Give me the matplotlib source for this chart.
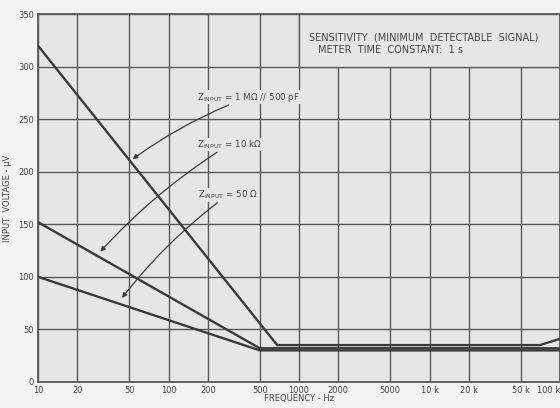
import matplotlib
matplotlib.use("Agg")
import matplotlib.pyplot as plt
import matplotlib.patches as mpatches

# Sensitivity curves
freq_1m = [10, 680, 70000, 100000]
volt_1m = [320, 35, 35, 41]
freq_10k = [10, 500, 100000]
volt_10k = [152, 32, 32]
freq_50 = [10, 500, 100000]
volt_50 = [100, 30, 30]

x_ticks = [10, 20, 50, 100, 200, 500, 1000, 2000, 5000, 10000, 20000, 50000, 100000]
x_labels = ['10', '20', '50', '100', '200', '500', '1000', '2000', '5000', '10 k', '20 k', '50 k', '100 k']
y_ticks = [0, 50, 100, 150, 200, 250, 300, 350]

grid_col = '#5a5a5a'
line_col = '#3a3a3a'
text_col = '#444444'
bg_col = '#e6e6e6'

fig = plt.figure(figsize=(5.6, 4.08), dpi=100, facecolor='#f3f3f3')
ax = fig.add_axes([0.068, 0.064, 0.932, 0.901])
ax.set_facecolor(bg_col)
ax.set_xscale('log')
ax.set_xlim(10, 100000)
ax.set_ylim(0, 350)

ax.set_xticks(x_ticks)
ax.set_xticklabels(x_labels)
ax.minorticks_off()
ax.set_yticks(y_ticks)
ax.tick_params(length=0, labelsize=6, colors=text_col, pad=3)
labels = ax.get_xticklabels()
labels[-1].set_horizontalalignment('right')
ax.grid(True, color=grid_col, linewidth=1.0)
ax.set_axisbelow(True)
for s in ax.spines.values():
    s.set_color(grid_col)
    s.set_linewidth(1.3)

# title box, hides the grid in the upper right
ax.add_patch(mpatches.Rectangle((1000, 300), 99000, 50, facecolor=bg_col,
                                edgecolor=grid_col, linewidth=1.0, zorder=1.5))
ax.text(1200, 328, 'SENSITIVITY  (MINIMUM  DETECTABLE  SIGNAL)', fontsize=7,
        color=text_col, va='center', zorder=3)
ax.text(1400, 316, 'METER  TIME  CONSTANT:  1 s', fontsize=7,
        color=text_col, va='center', zorder=3)

ax.plot(freq_1m, volt_1m, color=line_col, linewidth=1.7, zorder=4)
ax.plot(freq_10k, volt_10k, color=line_col, linewidth=1.7, zorder=4)
ax.plot(freq_50, volt_50, color=line_col, linewidth=1.7, zorder=4)

box = dict(facecolor=bg_col, edgecolor='none', pad=0.5)
arrow = dict(arrowstyle='-|>', color=line_col, linewidth=0.9, mutation_scale=7,
             connectionstyle='arc3,rad=0.07', shrinkA=1, shrinkB=0)
ax.annotate(r'$\mathregular{Z_{INPUT}}$ = 1 M$\Omega$ // 500 pF', xy=(53, 212), xytext=(165, 271),
            fontsize=6.3, color=text_col, va='center', bbox=box, arrowprops=arrow, zorder=5)
ax.annotate(r'$\mathregular{Z_{INPUT}}$ = 10 k$\Omega$', xy=(30, 124), xytext=(165, 226),
            fontsize=6.3, color=text_col, va='center', bbox=box, arrowprops=arrow, zorder=5)
ax.annotate(r'$\mathregular{Z_{INPUT}}$ = 50 $\Omega$', xy=(44, 80), xytext=(168, 178),
            fontsize=6.3, color=text_col, va='center', bbox=box, arrowprops=arrow, zorder=5)

ax.set_xlabel('FREQUENCY - Hz', fontsize=6, color=text_col)
ax.xaxis.set_label_coords(0.5, -0.032)
ax.set_ylabel('INPUT  VOLTAGE - \u03bcV', fontsize=6, color=text_col, labelpad=4)

fig.savefig('out.png', dpi=100, facecolor=fig.get_facecolor())
